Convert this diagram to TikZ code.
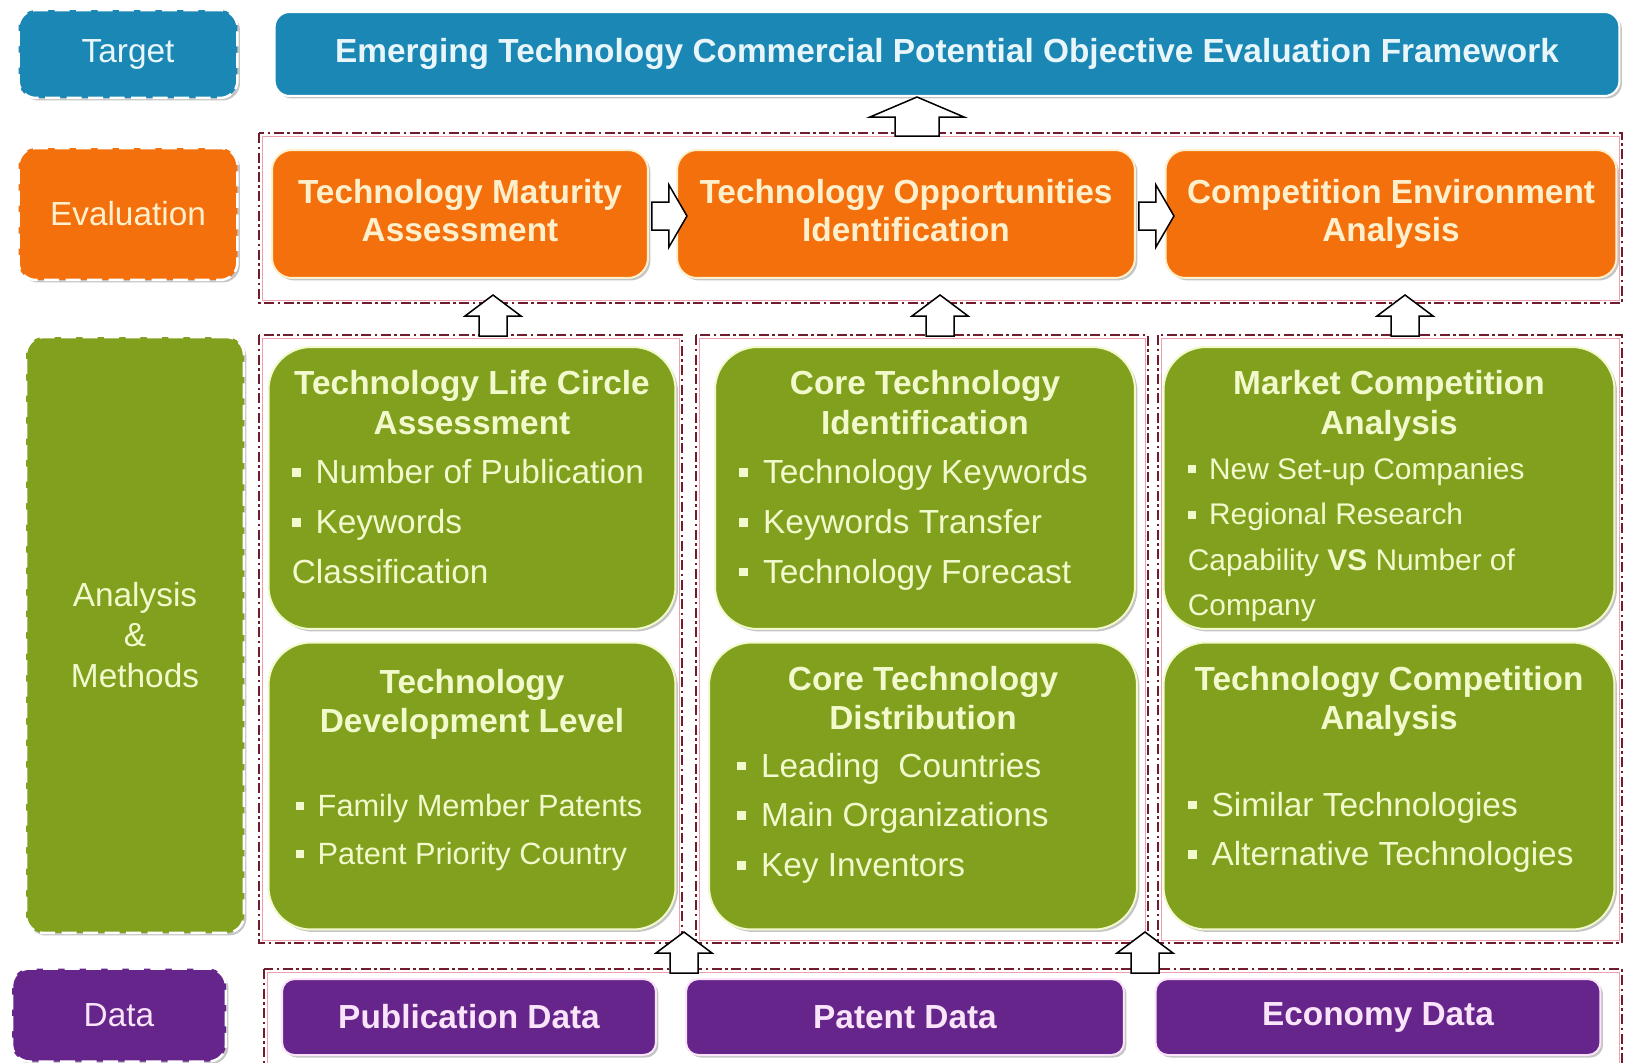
\documentclass[tikz,border=0pt]{standalone}
\usepackage{fontspec}
\setmainfont{Liberation Sans}
\usetikzlibrary{shadows,calc}
\definecolor{tgtblue}{RGB}{27,135,181}
\definecolor{evalorange}{RGB}{243,112,12}
\definecolor{anagreen}{RGB}{128,160,30}
\definecolor{datapurple}{RGB}{102,37,138}
\definecolor{frmred}{RGB}{112,28,44}
\definecolor{frmpink}{RGB}{238,160,175}
\definecolor{txtblue}{RGB}{232,246,250}
\definecolor{txtorange}{RGB}{255,240,205}
\definecolor{txtgreen}{RGB}{242,250,205}
\definecolor{txtpurple}{RGB}{250,228,250}
\newcommand{\fsz}[2]{\fontsize{#1}{#2}\selectfont}
\newcommand{\sqbul}{\rule[0.2em]{0.26em}{0.26em}\hspace{0.45em}}
\tikzset{
  dropsh/.style={drop shadow={shadow xshift=0.05cm,shadow yshift=-0.05cm,fill=black!50,opacity=.45}},
  lvlbox/.style={rounded corners=0.35cm,draw=white,line width=0.05cm,dash pattern=on 0.3cm off 0.13cm,
    inner sep=0pt,align=center,font=\fsz{19}{23.3},dropsh},
  titlebox/.style={rounded corners=0.3cm,draw=white,line width=0.04cm,fill=tgtblue,text=txtblue,
    inner sep=0pt,align=center,font=\bfseries\fsz{19}{22},dropsh},
  evalbox/.style={rounded corners=0.4cm,draw=txtorange,line width=0.04cm,fill=evalorange,text=txtorange,
    minimum height=2.56cm,inner sep=0pt,align=center,font=\bfseries\fsz{19}{22},dropsh},
  gbox/.style={rounded corners=0.85cm,draw=txtgreen,line width=0.04cm,fill=anagreen,inner sep=0pt,dropsh},
  ghead/.style={anchor=north,inner sep=0pt,align=center,text=txtgreen,font=\bfseries\fsz{19}{22.7}},
  glist/.style={anchor=north west,inner sep=0pt,align=left,text=txtgreen,font=\fsz{19}{28.3}},
  databox/.style={rounded corners=0.25cm,draw=txtpurple,line width=0.04cm,fill=datapurple,text=txtpurple,
    minimum height=1.52cm,inner sep=0pt,align=center,font=\bfseries\fsz{19}{22},dropsh},
  frm/.style={draw=frmred,line width=0.03cm,dash pattern=on 0.2cm off 0.07cm on 0.05cm off 0.07cm},
  frmin/.style={draw=frmpink,line width=0.015cm},
  blk/.style={draw=black,fill=white,line width=0.03cm,line join=miter},
  bigup/.pic={\draw[blk] (-22,0) -- (-22,-19) -- (-47,-19) -- (0,-39) -- (47,-19) -- (22,-19) -- (22,0) -- cycle;},
  uparr/.pic={\draw[blk] (-14,0) -- (-14,-20) -- (-28,-20) -- (0,-41) -- (28,-20) -- (14,-20) -- (14,0) -- cycle;},
  rtarr/.pic={\draw[blk] (0,-14) -- (17,-14) -- (17,-31) -- (35,0) -- (17,31) -- (17,14) -- (0,14) -- cycle;}
}
\begin{document}
\begin{tikzpicture}[x=0.02cm,y=-0.02cm]
  \fill[white] (0,0) rectangle (1625,1062);
  \useasboundingbox (0,0) rectangle (1625,1062);
  % dash-dot frames
  \draw[frmin] (262,136) rectangle (1619,300);
  \draw[frm] (259,133) rectangle (1622,303);
  \draw[frmin] (262,338) rectangle (679,940);
  \draw[frm] (259,335) rectangle (682,943);
  \draw[frmin] (699,338) rectangle (1145,940);
  \draw[frm] (696,335) rectangle (1148,943);
  \draw[frmin] (1161,338) rectangle (1619,940);
  \draw[frm] (1158,335) rectangle (1622,943);
  \draw[frmin] (267,972) rectangle (1619,1075);
  \draw[frm] (264,969) rectangle (1622,1078);
  % left labels
  \node[lvlbox,fill=tgtblue,text=txtblue,minimum width=4.38cm,minimum height=1.76cm] (tgt) at (128,54) {Target};
  \node[lvlbox,fill=evalorange,text=txtorange,minimum width=4.38cm,minimum height=2.64cm] (evl) at (128,214) {Evaluation};
  \node[lvlbox,fill=anagreen,text=txtgreen,minimum width=4.36cm,minimum height=11.92cm] (ana) at (135,635) {Analysis\\\&\\Methods};
  \node[lvlbox,fill=datapurple,text=txtpurple,minimum width=4.28cm,minimum height=1.86cm] (dat) at (119,1015) {Data};
  % target
  \node[titlebox,minimum width=26.9cm,minimum height=1.68cm] (frame) at (947,54)
    {Emerging Technology Commercial Potential Objective Evaluation Framework};
  % evaluation
  \node[evalbox,minimum width=7.52cm] (tma) at (460,214) {Technology Maturity\\Assessment\vphantom{y}};
  \node[evalbox,minimum width=9.16cm] (toi) at (906,214) {Technology Opportunities\\Identification\vphantom{y}};
  \node[evalbox,minimum width=9.02cm] (cea) at (1391,214) {Competition Environment\\Analysis};
  % analysis & methods
  \node[gbox,minimum width=8.14cm,minimum height=5.64cm] (lcirc) at (472,488) {};
  \node[ghead] at ($(lcirc.north)+(0,24)$) {Technology Life Circle\\Assessment};
  \node[glist] at ($(lcirc.north west)+(24,113)$) {\sqbul Number of Publication\\\sqbul Keywords\\Classification};
  \node[gbox,minimum width=8.4cm,minimum height=5.64cm] (ctid) at (925,488) {};
  \node[ghead] at ($(ctid.north)+(0,24)$) {Core Technology\\Identification};
  \node[glist] at ($(ctid.north west)+(25,113)$) {\sqbul Technology Keywords\\\sqbul Keywords Transfer\\\sqbul Technology Forecast};
  \node[gbox,minimum width=9.02cm,minimum height=5.64cm] (mca) at (1389,488) {};
  \node[ghead] at ($(mca.north)+(0,24)$) {Market Competition\\Analysis};
  \node[glist,font=\fsz{17}{25.9}] at ($(mca.north west)+(25,111)$)
    {\sqbul New Set-up Companies\\\sqbul Regional Research\\Capability \textbf{VS} Number of\\Company};
  \node[gbox,minimum width=8.14cm,minimum height=5.74cm] (tdl) at (472,786) {};
  \node[ghead] at ($(tdl.north)+(0,27)$) {Technology\\Development Level};
  \node[glist,font=\fsz{17.5}{27.5}] at ($(tdl.north west)+(28,152)$) {\sqbul Family Member Patents\\\sqbul Patent Priority Country};
  \node[gbox,minimum width=8.56cm,minimum height=5.74cm] (ctd) at (923,786) {};
  \node[ghead] at ($(ctd.north)+(0,24)$) {Core Technology\\Distribution};
  \node[glist] at ($(ctd.north west)+(29,111)$) {\sqbul Leading\ \ Countries\\\sqbul Main Organizations\\\sqbul Key Inventors};
  \node[gbox,minimum width=9.02cm,minimum height=5.74cm] (tca) at (1389,786) {};
  \node[ghead] at ($(tca.north)+(0,24)$) {Technology Competition\\Analysis};
  \node[glist] at ($(tca.north west)+(25,150)$) {\sqbul Similar Technologies\\\sqbul Alternative Technologies};
  % data
  \node[databox,minimum width=7.48cm] (pub) at (469,1017) {Publication Data};
  \node[databox,minimum width=8.76cm] (pat) at (905,1017) {Patent Data};
  \node[databox,minimum width=8.9cm] (eco) at (1378,1017) {Economy Data};
  % block arrows
  \pic at (917,136) {bigup};
  \pic at (493,336) {uparr};
  \pic at (940,336) {uparr};
  \pic at (1405,336) {uparr};
  \pic at (684,973) {uparr};
  \pic at (1145,973) {uparr};
  \pic at ($(tma.east)+(3,2)$) {rtarr};
  \pic at ($(toi.east)+(3,2)$) {rtarr};
\end{tikzpicture}
\end{document}
